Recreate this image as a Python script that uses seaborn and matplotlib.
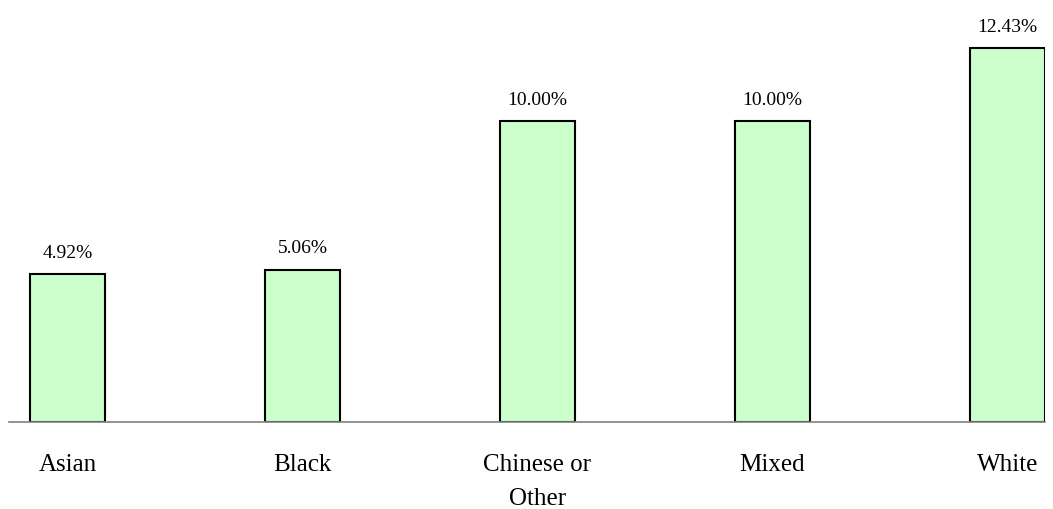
import pandas as pd
import seaborn as sns
import matplotlib.pyplot as plt

categories = ['Asian', 'Black', 'Chinese or\nOther', 'Mixed', 'White']
values = [4.92, 5.06, 10.00, 10.00, 12.43]
labels = ['4.92%', '5.06%', '10.00%', '10.00%', '12.43%']

sns.set_style('white')
plt.rcParams['font.family'] = ['Liberation Serif', 'DejaVu Serif']
plt.rcParams['text.color'] = 'black'
plt.rcParams['xtick.color'] = 'black'

df = pd.DataFrame({'group': categories, 'pct': values})

fig = plt.figure(figsize=(10.53, 5.09), dpi=100)
ax = fig.add_axes([9 / 1053, 87 / 509, 1036 / 1053, 422 / 509])

sns.barplot(data=df, x='group', y='pct', color='#ccffcc', saturation=1,
            width=0.32, edgecolor='black', linewidth=1.5, ax=ax)

for i, (v, lab) in enumerate(zip(values, labels)):
    ax.annotate(lab, (i, v), xytext=(0, 9), textcoords='offset points',
                ha='center', va='bottom', fontsize=14, color='black')

ax.set_xlim(-0.249, 4.16)
ax.set_ylim(0, 14.03)
ax.set_xlabel('')
ax.set_ylabel('')
ax.set_yticks([])
ax.tick_params(axis='x', length=0, pad=23, labelsize=18, labelcolor='black')
for t in ax.get_xticklabels():
    t.set_linespacing(1.7)
for s in ['top', 'right', 'left']:
    ax.spines[s].set_visible(False)
ax.spines['bottom'].set_color('#808080')
ax.spines['bottom'].set_linewidth(1.2)

fig.savefig('out.png', dpi=100)
